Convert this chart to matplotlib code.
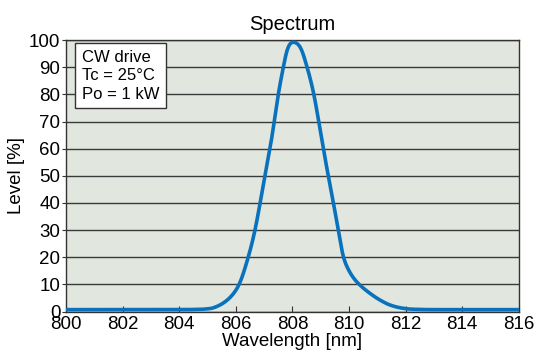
import numpy as np
from matplotlib import pyplot as plt

# точки спектра (длина волны, нм / уровень, %)
wavelength = [800.0, 802.0, 804.0, 804.7, 805.1, 805.44, 805.73, 805.97, 806.12,
              806.44, 806.68, 806.86, 807.03, 807.21, 807.36, 807.5, 807.68,
              807.8, 807.92, 808.03, 808.15, 808.27, 808.52, 808.76, 808.93,
              809.09, 809.27, 809.45, 809.62, 809.8, 810.0, 810.2, 810.36,
              810.74, 811.1, 811.45, 811.8, 812.16, 813.0, 814.0, 816.0]
level = [0.7, 0.7, 0.7, 0.8, 1.1, 2.4, 4.5, 7.3, 10.0,
         20.0, 30.0, 40.0, 50.0, 60.0, 70.0, 80.0, 90.0,
         96.0, 98.8, 99.3, 98.9, 97.6, 90.0, 80.0, 70.0,
         60.0, 50.0, 40.0, 30.0, 20.0, 15.0, 11.8, 10.0,
         6.7, 4.2, 2.4, 1.4, 0.9, 0.7, 0.7, 0.7]

x_ticks = np.arange(800, 817, 2)
y_ticks = np.arange(0, 101, 10)
note = 'CW drive\nTc = 25°C\nPo = 1 kW'

plt.rcParams['font.family'] = ['Liberation Sans', 'DejaVu Sans']

fig = plt.figure(figsize=(5.36, 3.61), dpi=100)
ax = fig.add_axes([0.123, 0.137, 0.845, 0.752])
ax.set_facecolor('#e1e6de')

# монотонная кубическая интерполяция (PCHIP), чтобы кривая шла гладко между точками
def pchip(x, y, xs):
    x = np.asarray(x); y = np.asarray(y)
    h = np.diff(x); d = np.diff(y) / h
    m = np.zeros_like(y)
    for k in range(1, len(x) - 1):
        if d[k - 1] * d[k] > 0:
            w1 = 2 * h[k] + h[k - 1]; w2 = h[k] + 2 * h[k - 1]
            m[k] = (w1 + w2) / (w1 / d[k - 1] + w2 / d[k])
    m[0] = d[0]; m[-1] = d[-1]
    i = np.clip(np.searchsorted(x, xs) - 1, 0, len(x) - 2)
    t = (xs - x[i]) / h[i]
    h00 = 2 * t**3 - 3 * t**2 + 1; h10 = t**3 - 2 * t**2 + t
    h01 = -2 * t**3 + 3 * t**2; h11 = t**3 - t**2
    return h00 * y[i] + h10 * h[i] * m[i] + h01 * y[i + 1] + h11 * h[i] * m[i + 1]

xs = np.linspace(800, 816, 3201)
ys = pchip(wavelength, level, xs)
# лёгкое сглаживание гауссом, чтобы убрать изломы от неточного считывания
dx = xs[1] - xs[0]
kx = np.arange(-60, 61) * dx
kern = np.exp(-0.5 * (kx / 0.05) ** 2)
kern /= kern.sum()
ys = np.convolve(np.pad(ys, 60, mode='edge'), kern, mode='valid')

ax.plot(xs, ys, color='#0a72bd', lw=2.6, zorder=3,
        solid_capstyle='round', solid_joinstyle='round')

ax.set_xlim(800, 816)
ax.set_ylim(0, 100)
ax.set_xticks(x_ticks)
ax.set_yticks(y_ticks)
ax.yaxis.grid(True, color='#3a3a3a', lw=1.0)
ax.tick_params(axis='x', direction='in', length=4, color='#333333', labelsize=13.5, pad=3)
ax.tick_params(axis='y', direction='out', length=3, color='#333333', labelsize=13.5, pad=1)
for s in ax.spines.values():
    s.set_color('#333333')
    s.set_linewidth(1.0)

ax.set_title('Spectrum', fontsize=14.5, pad=7)
ax.set_xlabel('Wavelength [nm]', fontsize=13.5, labelpad=0)
ax.set_ylabel('Level [%]', fontsize=13.5, labelpad=3)

ax.text(0.035, 0.965, note, transform=ax.transAxes, fontsize=12, va='top', ha='left',
        linespacing=1.3, zorder=5,
        bbox=dict(boxstyle='square,pad=0.4', facecolor='white', edgecolor='#333333', lw=1.0))

plt.savefig('out.png', dpi=100)
